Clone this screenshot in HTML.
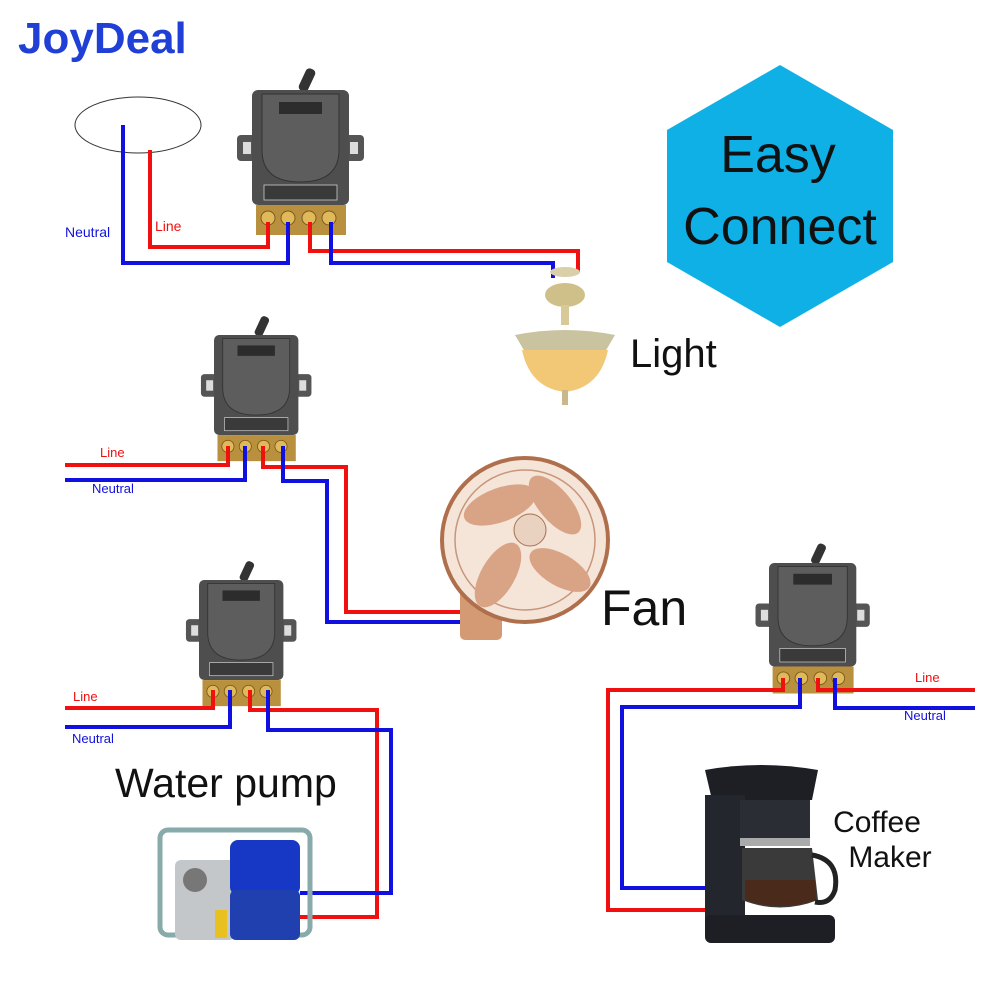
<!DOCTYPE html>
<html><head><meta charset="utf-8"><style>
html,body{margin:0;padding:0;background:#fff;}
svg{display:block;font-family:"Liberation Sans",Arial,sans-serif;}
</style></head><body>
<svg width="1000" height="1000" viewBox="0 0 1000 1000" xmlns="http://www.w3.org/2000/svg">
<defs>
<g id="sw">
  <rect x="50" y="-22" width="10" height="24" rx="4" fill="#333" transform="rotate(25 55 -10)"/>
  <rect x="-15" y="45" width="20" height="26" rx="4" fill="#555"/>
  <rect x="92" y="45" width="20" height="26" rx="4" fill="#555"/>
  <rect x="-9" y="52" width="8" height="12" fill="#ddd"/>
  <rect x="98" y="52" width="8" height="12" fill="#ddd"/>
  <rect x="0" y="0" width="97" height="115" rx="6" fill="#4e4e4e"/>
  <path d="M10 4 H87 V60 Q87 92 48 92 Q10 92 10 60 Z" fill="#5d5d5d" stroke="#333" stroke-width="1"/>
  <rect x="27" y="12" width="43" height="12" fill="#2c2c2c"/>
  <rect x="12" y="95" width="73" height="15" fill="#3a3a3a" stroke="#ccc" stroke-width="0.8"/>
  <rect x="4" y="115" width="90" height="30" fill="#b9903e"/>
  <circle cx="16" cy="128" r="7" fill="#e0b95a" stroke="#7a5a1c"/>
  <circle cx="36" cy="128" r="7" fill="#e0b95a" stroke="#7a5a1c"/>
  <circle cx="57" cy="128" r="7" fill="#e0b95a" stroke="#7a5a1c"/>
  <circle cx="77" cy="128" r="7" fill="#e0b95a" stroke="#7a5a1c"/>
</g>
</defs>

<text x="18" y="53" font-size="44" font-weight="bold" fill="#1f3fd6">JoyDeal</text>

<polygon points="780,65 893,130 893,262 780,327 667,262 667,130" fill="#0eb0e6"/>
<text x="778" y="172" font-size="52" text-anchor="middle" fill="#111">Easy</text>
<text x="780" y="244" font-size="52" text-anchor="middle" fill="#111">Connect</text>

<ellipse cx="138" cy="125" rx="63" ry="28" fill="#fff" stroke="#333" stroke-width="1"/>

<use href="#sw" transform="translate(252,90)"/>
<use href="#sw" transform="translate(214,335) scale(0.87)"/>
<use href="#sw" transform="translate(199,580) scale(0.87)"/>
<use href="#sw" transform="translate(769,563) scale(0.9)"/>

<g fill="none" stroke-width="4" stroke-linejoin="miter">
  <polyline stroke="#f01010" points="150,150 150,247 268,247 268,222"/>
  <polyline stroke="#1010e0" points="123,125 123,263 288,263 288,222"/>
  <polyline stroke="#f01010" points="310,222 310,251 578,251 578,272"/>
  <polyline stroke="#1010e0" points="331,222 331,263 553,263 553,278"/>
  <polyline stroke="#f01010" points="65,465 228,465 228,446"/>
  <polyline stroke="#1010e0" points="65,480 245,480 245,446"/>
  <polyline stroke="#f01010" points="263,446 263,467 346,467 346,612 462,612"/>
  <polyline stroke="#1010e0" points="283,446 283,481 327,481 327,622 462,622"/>
  <polyline stroke="#f01010" points="65,708 213,708 213,690"/>
  <polyline stroke="#1010e0" points="65,727 230,727 230,690"/>
  <polyline stroke="#f01010" points="250,690 250,710 377,710 377,917 300,917"/>
  <polyline stroke="#1010e0" points="268,690 268,730 391,730 391,893 300,893"/>
  <polyline stroke="#f01010" points="783,678 783,690 608,690 608,910 705,910"/>
  <polyline stroke="#1010e0" points="800,678 800,707 622,707 622,888 705,888"/>
  <polyline stroke="#f01010" points="818,678 818,690 975,690"/>
  <polyline stroke="#1010e0" points="835,678 835,708 975,708"/>
</g>

<g font-size="14">
  <text x="65" y="237" fill="#1010e0">Neutral</text>
  <text x="155" y="231" fill="#f01010">Line</text>
  <text x="100" y="457" fill="#f01010" font-size="13">Line</text>
  <text x="92" y="493" fill="#1010e0" font-size="13">Neutral</text>
  <text x="73" y="701" fill="#f01010" font-size="13">Line</text>
  <text x="72" y="743" fill="#1010e0" font-size="13">Neutral</text>
  <text x="915" y="682" fill="#f01010" font-size="13">Line</text>
  <text x="904" y="720" fill="#1010e0" font-size="13">Neutral</text>
</g>

<g>
  <ellipse cx="565" cy="272" rx="15" ry="5" fill="#d9cfa8"/>
  <ellipse cx="565" cy="295" rx="20" ry="12" fill="#cfc08a"/>
  <rect x="561" y="305" width="8" height="20" fill="#d8c998"/>
  <path d="M515 335 Q565 325 615 335 L605 352 H525 Z" fill="#c9c3a0"/>
  <path d="M522 350 H608 Q600 388 565 392 Q530 388 522 350Z" fill="#f2c776"/>
  <rect x="562" y="390" width="6" height="15" fill="#c9b98a"/>
</g>
<text x="630" y="367" font-size="40" fill="#111">Light</text>

<g>
  <rect x="460" y="585" width="42" height="55" rx="5" fill="#d49a74"/>
  <ellipse cx="525" cy="540" rx="83" ry="82" fill="#f5e4d8" stroke="#b06f4c" stroke-width="4"/>
  <ellipse cx="525" cy="540" rx="70" ry="70" fill="none" stroke="#c8957a" stroke-width="1.5"/>
  <ellipse cx="500" cy="505" rx="38" ry="17" fill="#d9a386" transform="rotate(-20 500 505)"/>
  <ellipse cx="555" cy="505" rx="36" ry="16" fill="#d9a386" transform="rotate(50 555 505)"/>
  <ellipse cx="498" cy="575" rx="36" ry="17" fill="#d9a386" transform="rotate(-60 498 575)"/>
  <ellipse cx="560" cy="570" rx="34" ry="16" fill="#d9a386" transform="rotate(30 560 570)"/>
  <circle cx="530" cy="530" r="16" fill="#e9d3c0" stroke="#a97050"/>
</g>
<text x="601" y="625" font-size="50" fill="#111">Fan</text>

<text x="115" y="797" font-size="41" fill="#111">Water pump</text>
<g>
  <rect x="160" y="830" width="150" height="105" rx="8" fill="none" stroke="#8aa" stroke-width="5"/>
  <rect x="175" y="860" width="60" height="80" rx="6" fill="#c4c7ca"/>
  <circle cx="195" cy="880" r="12" fill="#777"/>
  <rect x="230" y="840" width="70" height="55" rx="8" fill="#1638c4"/>
  <rect x="230" y="890" width="70" height="50" rx="6" fill="#2040b0"/>
  <rect x="215" y="910" width="12" height="28" fill="#e8c020"/>
</g>

<g>
  <path d="M705 770 Q760 760 818 770 L812 800 H712 Z" fill="#1d1f24"/>
  <rect x="705" y="795" width="40" height="140" fill="#23262c"/>
  <rect x="740" y="800" width="70" height="40" fill="#2a2d33"/>
  <rect x="740" y="838" width="70" height="8" fill="#aaa"/>
  <path d="M742 848 H812 L818 900 Q780 915 742 900Z" fill="#3a3a3a"/>
  <path d="M745 880 H815 L816 900 Q780 912 745 900Z" fill="#4a2a1a"/>
  <path d="M812 855 Q840 860 835 890 Q830 905 815 902" fill="none" stroke="#222" stroke-width="5"/>
  <rect x="705" y="915" width="130" height="28" rx="6" fill="#1d1f24"/>
</g>
<text x="877" y="832" font-size="30" fill="#111" text-anchor="middle">Coffee</text>
<text x="890" y="867" font-size="30" fill="#111" text-anchor="middle">Maker</text>
</svg>
</body></html>
